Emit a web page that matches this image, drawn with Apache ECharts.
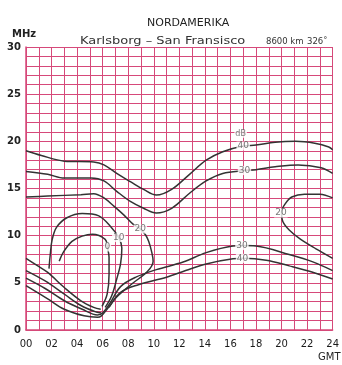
<!DOCTYPE html>
<html>
<head>
<meta charset="utf-8">
<script src="https://cdn.jsdelivr.net/npm/echarts@6/dist/echarts.min.js"></script>
<style>
  html, body { margin: 0; padding: 0; background: #fff; }
  #chart { width: 342px; height: 365px; }
</style>
</head>
<body>
<div id="chart"></div>
<script>
// Tick labels (every second hour, every fifth MHz)
const hourLabels = ['00', '02', '04', '06', '08', '10', '12', '14', '16', '18', '20', '22', '24'];
const freqLabels = ['0', '5', '10', '15', '20', '25', '30'];

// Contour lines: [hour GMT, MHz]
const upper40 = [[0, 19.0], [1.2, 18.5], [3, 17.9], [5.3, 17.8], [6.1, 17.5], [7.1, 16.6], [8.2, 15.7],
  [9.2, 14.9], [10.2, 14.3], [11.4, 14.9], [12.8, 16.5], [14.1, 18.0], [15.4, 18.9], [17, 19.5],
  [18, 19.6], [19.5, 19.9], [21.1, 20.0], [22.6, 19.8], [23.7, 19.4], [24, 19.1]];
const upper30 = [[0, 16.8], [1.7, 16.5], [3, 16.1], [5.1, 16.1], [6.1, 15.8], [7.1, 14.7], [8.2, 13.6],
  [9.2, 12.9], [10.2, 12.4], [11.4, 12.9], [12.8, 14.5], [14.1, 15.8], [15.4, 16.6], [17.1, 16.9],
  [18, 17.0], [19.5, 17.3], [21.3, 17.5], [23.1, 17.2], [24, 16.6]];
const left20 = [[0, 14.1], [1.7, 14.2], [4.3, 14.35], [5.3, 14.45], [6.1, 14.0], [6.9, 13.1], [7.65, 12.2],
  [8.4, 11.2], [8.95, 10.7], [9.35, 10.1], [9.6, 9.4], [9.85, 8.2], [9.95, 7.3], [9.5, 6.2],
  [8.3, 4.9], [7.1, 3.5], [6.5, 2.4]];
const loop10 = [[1.8, 6.5], [1.9, 8.0], [2.05, 9.6], [2.4, 10.9], [3.2, 11.9], [4.4, 12.35], [5.7, 12.1],
  [6.6, 11.0], [7.26, 9.8], [7.5, 8.7], [7.4, 7.0], [7.1, 5.4], [6.7, 3.6], [6.2, 2.4]];
const loop0 = [[2.6, 7.3], [2.95, 8.3], [3.6, 9.4], [4.4, 9.95], [5.2, 10.15], [6.2, 9.6], [6.36, 8.8],
  [6.5, 7.7], [6.5, 5.9], [6.35, 3.8], [5.95, 2.5]];
const lowLeft10 = [[0, 7.6], [0.8, 6.9], [1.7, 6.1], [3.0, 4.5], [4.3, 3.1], [5.3, 2.4], [5.85, 2.2]];
const lowLeft20 = [[0, 6.3], [1.5, 5.2], [3, 3.8], [4.3, 2.6], [5.5, 1.9], [5.9, 1.8]];
const lower30 = [[0, 5.5], [1.5, 4.4], [3, 3.1], [4.4, 2.2], [5.6, 1.6], [6.0, 1.8], [6.6, 2.9], [7.4, 4.6],
  [8.6, 5.6], [10.2, 6.4], [12.3, 7.2], [14.1, 8.2], [16.2, 8.9], [17, 8.95], [18, 8.9], [20.6, 8.0],
  [22.5, 7.2], [24, 6.3]];
const lower40 = [[0, 4.7], [1.7, 3.3], [3.0, 2.2], [4.55, 1.5], [5.6, 1.35], [5.9, 1.5], [6.4, 2.3],
  [7.4, 4.0], [8.8, 4.8], [11, 5.6], [12.5, 6.3], [14.1, 7.0], [16.2, 7.55], [17, 7.6], [18.8, 7.4],
  [20.6, 6.8], [22.5, 6.1], [24, 5.4]];
const right20 = [[24, 14.0], [23, 14.4], [21.8, 14.4], [20.8, 14.1], [20.3, 13.4], [20.0, 12.5],
  [20.1, 11.5], [20.6, 10.6], [21.5, 9.6], [22.7, 8.6], [24, 7.6]];

// Contour value labels: [text, hour, MHz]
const contourLabels = [['40', 17.0, 19.5], ['30', 17.1, 16.9], ['20', 19.95, 12.4], ['30', 16.9, 8.95],
  ['40', 16.95, 7.6], ['20', 8.95, 10.7], ['10', 7.26, 9.8], ['0', 6.36, 8.8]];
const unitLabel = ['dB', 16.8, 20.8];

const gridColor = '#d6497a';
const curveColor = '#333333';

function curve(data) {
  return {
    type: 'line', data: data, smooth: 0.35, symbol: 'none', silent: true,
    lineStyle: { color: curveColor, width: 1.5 }, z: 3
  };
}

const chart = echarts.init(document.getElementById('chart'), null, { renderer: 'canvas' });
chart.setOption({
  animation: false,
  backgroundColor: '#ffffff',
  textStyle: { fontFamily: 'DejaVu Sans' },
  grid: { left: 26, right: 4, top: 47, bottom: 35 },
  xAxis: {
    type: 'value', min: 0, max: 24, interval: 1,
    axisLine: { show: true, lineStyle: { color: gridColor, width: 1.5 } },
    axisTick: { show: false },
    splitLine: { show: true, lineStyle: { color: gridColor, width: 1 } },
    axisLabel: {
      margin: 9, color: '#1a1a1a', fontSize: 10,
      formatter: v => (v % 2 === 0 ? hourLabels[v / 2] : '')
    }
  },
  yAxis: {
    type: 'value', min: 0, max: 30, interval: 1,
    axisLine: { show: true, lineStyle: { color: gridColor, width: 1.5 } },
    axisTick: { show: false },
    splitLine: { show: true, lineStyle: { color: gridColor, width: 1 } },
    axisLabel: {
      margin: 5, color: '#222', fontSize: 10, fontWeight: 'bold',
      formatter: v => (v % 5 === 0 ? freqLabels[v / 5] : '')
    }
  },
  series: [
    curve(upper40), curve(upper30), curve(left20), curve(loop10), curve(loop0),
    curve(lowLeft10), curve(lowLeft20), curve(lower30), curve(lower40), curve(right20),
    {
      type: 'scatter', symbolSize: 0, silent: true, z: 10,
      data: contourLabels.map(([t, h, f]) => ({ value: [h, f], label: { formatter: t } })),
      label: {
        show: true, position: 'inside', color: '#555', fontSize: 9,
        backgroundColor: '#ffffff', padding: [0, 1]
      }
    },
    {
      type: 'scatter', symbolSize: 0, silent: true, z: 10,
      data: [{ value: [unitLabel[1], unitLabel[2]], label: { formatter: unitLabel[0] } }],
      label: { show: true, position: 'inside', color: '#555', fontSize: 8, backgroundColor: '#ffffff', padding: [0, 1] }
    }
  ],
  graphic: [
    { type: 'text', x: 147, y: 18, scaleX: 1.1, style: { text: 'NORDAMERIKA', font: '10px "DejaVu Sans"', fill: '#222' } },
    { type: 'text', x: 80, y: 36, scaleX: 1.3, style: { text: 'Karlsborg – San Fransisco', font: '10px "DejaVu Sans"', fill: '#333' } },
    { type: 'text', x: 266, y: 37, style: { text: '8600 km', font: '8.5px "DejaVu Sans"', fill: '#333' } },
    { type: 'text', x: 307, y: 37, style: { text: '326˚', font: '8.5px "DejaVu Sans"', fill: '#333' } },
    { type: 'text', x: 12, y: 29, style: { text: 'MHz', font: 'bold 10px "DejaVu Sans"', fill: '#222' } },
    { type: 'text', x: 318, y: 352, style: { text: 'GMT', font: '10px "DejaVu Sans"', fill: '#222' } }
  ]
});
</script>
</body>
</html>
